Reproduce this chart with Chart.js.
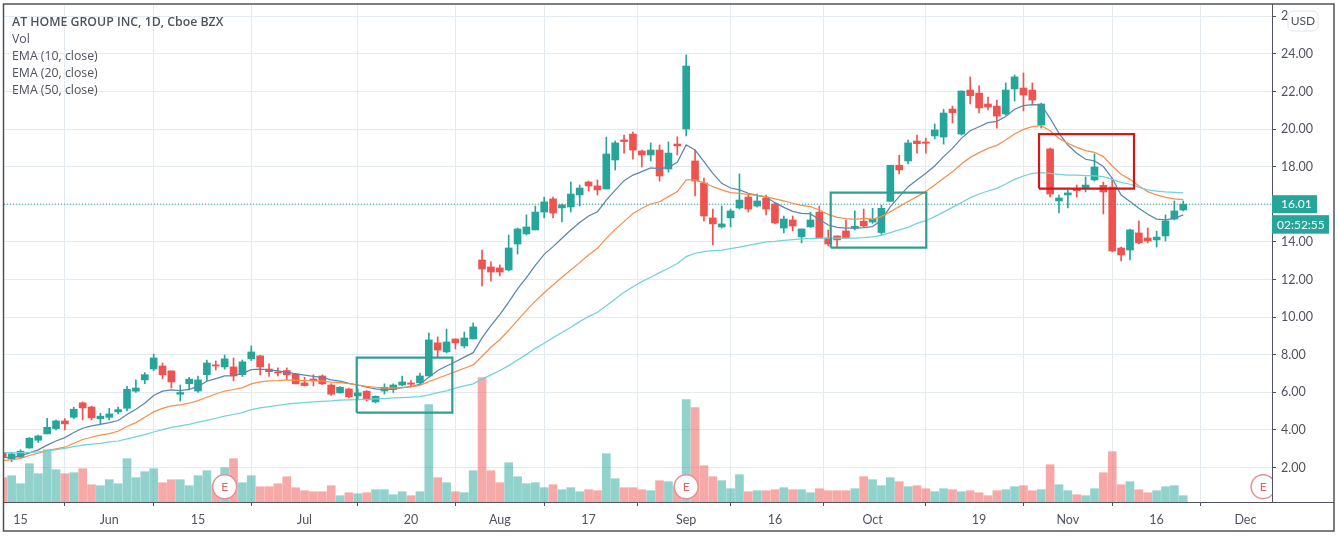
<!DOCTYPE html>
<html>
<head>
<meta charset="utf-8">
<title>AT HOME GROUP INC, 1D, Cboe BZX</title>
<script src="https://cdn.jsdelivr.net/npm/chart.js@4/dist/chart.umd.min.js"></script>
<style>
  html, body { margin: 0; padding: 0; background: #fff; }
  #wrap { position: relative; width: 1338px; height: 536px; overflow: hidden; }
  #legend {
    position: absolute; left: 12px; top: 13px;
    font: 12.3px/17px 'Open Sans', sans-serif; color: #50535e;
  }
  #legend .name { font-weight: 600; }
</style>
</head>
<body>
<div id="wrap">
  <canvas id="chart" width="1338" height="536"></canvas>
  <div id="legend">
    <div class="name">AT HOME GROUP INC, 1D, Cboe BZX</div>
    <div>Vol</div>
    <div>EMA (10, close)</div>
    <div>EMA (20, close)</div>
    <div>EMA (50, close)</div>
  </div>
</div>
<script>
const tickIndex = [2, 12, 22, 34, 46, 56, 66, 77, 87, 98, 110, 120, 130, 140];
const tickLabels = ['15', 'Jun', '15', 'Jul', '20', 'Aug', '17', 'Sep', '16', 'Oct', '19', 'Nov', '16', 'Dec'];
const priceTicks = [2, 4, 6, 8, 10, 12, 14, 16, 18, 20, 22, 24, 26];

const opens = [
  2.76,2.46,2.55,3.04,3.45,3.79,4.07,4.48,4.67,5.44,
  5.22,4.59,4.67,4.96,5.15,6.06,6.66,7.24,7.40,7.14,
  5.90,6.46,6.07,6.94,7.46,7.35,7.35,6.94,7.78,7.94,
  7.24,7.08,7.16,6.98,6.50,6.71,6.87,6.39,5.97,6.18,
  5.81,6.06,5.49,6.07,6.15,6.39,6.50,6.50,6.87,8.63,
  8.15,8.84,8.47,8.84,13.04,12.67,12.62,12.51,13.89,14.43,
  14.64,15.59,16.29,15.81,15.86,16.50,17.19,16.98,16.82,18.36,
  19.43,19.74,18.84,18.63,18.89,17.88,19.21,20.01,18.31,17.14,
  15.28,14.80,15.28,15.81,16.39,15.91,16.34,16.02,14.74,15.17,
  14.27,14.80,15.59,14.21,14.32,14.59,14.73,15.10,15.06,14.50,
  16.16,18.08,18.31,19.37,19.32,19.64,19.58,21.07,19.74,22.08,
  21.92,21.34,21.23,20.81,22.14,22.19,22.08,20.22,18.95,16.18,
  16.50,16.85,16.87,17.30,17.01,16.92,13.68,13.57,14.48,14.21,
  14.11,14.32,15.22,15.70
];
const highs = [
  2.80,2.79,2.94,3.59,3.73,4.62,4.53,4.60,5.21,5.49,
  5.26,4.89,5.15,5.22,6.32,6.66,7.05,8.04,7.56,7.14,
  6.39,6.80,6.87,7.72,7.67,7.99,7.83,7.72,8.47,7.97,
  7.51,7.30,7.30,7.01,6.80,6.93,6.93,6.45,6.30,6.23,
  6.18,6.09,5.81,6.45,6.45,6.87,6.62,7.03,9.16,8.95,
  9.37,8.84,9.21,9.69,13.57,12.94,12.78,14.37,14.74,15.44,
  15.91,16.39,16.39,16.02,17.19,17.03,17.24,17.30,19.58,19.37,
  19.69,19.85,18.89,19.27,19.16,19.32,19.59,23.95,18.89,17.40,
  15.75,15.91,15.75,17.62,16.55,16.55,16.50,16.06,15.38,15.38,
  14.69,15.59,15.91,14.64,14.32,15.17,15.65,15.75,15.79,15.95,
  18.08,18.61,19.42,19.69,19.53,20.28,21.06,21.23,22.03,22.78,
  22.30,21.71,21.55,22.46,22.88,22.99,22.46,21.39,19.00,16.50,
  16.77,17.03,17.46,18.68,17.19,17.40,13.73,14.69,15.12,14.74,
  14.58,15.44,16.18,16.18
];
const lows = [
  2.50,2.31,2.49,3.02,3.33,3.79,4.00,4.00,4.60,4.53,
  4.53,4.32,4.53,4.85,5.01,5.99,6.46,7.16,6.73,6.23,
  5.54,6.13,5.99,6.62,7.19,7.23,6.61,6.84,7.69,6.93,
  6.84,6.87,6.66,6.45,6.34,6.34,6.41,5.83,5.95,5.70,
  5.60,5.54,5.44,5.91,5.99,6.34,6.30,6.48,6.87,7.88,
  8.10,8.31,8.36,8.84,11.66,11.92,12.19,12.46,13.36,14.37,
  14.64,15.28,15.28,15.06,15.59,15.91,16.71,16.50,16.82,17.83,
  18.73,18.41,17.99,18.31,17.24,17.72,18.63,19.64,16.45,15.12,
  13.84,14.74,14.80,15.75,15.59,15.86,15.44,14.96,14.48,14.59,
  13.95,14.78,14.20,13.79,13.68,14.20,14.64,14.81,14.99,14.39,
  16.15,17.62,18.15,18.73,18.73,19.48,19.21,20.33,19.69,21.34,
  20.86,21.02,20.06,20.74,21.50,20.97,21.29,20.06,16.39,15.54,
  15.81,16.39,16.66,17.24,15.49,13.47,12.99,13.04,13.89,13.95,
  13.73,14.05,15.17,15.65
];
const closes = [
  2.53,2.72,2.87,3.56,3.68,4.14,4.48,4.32,5.10,5.17,
  4.64,4.73,4.85,5.08,6.16,6.23,6.94,7.83,6.93,6.55,
  5.99,6.70,6.66,7.56,7.40,7.78,6.87,7.62,8.15,7.35,
  7.10,7.03,6.93,6.45,6.36,6.62,6.45,5.90,6.27,5.76,
  5.97,5.60,5.79,6.27,6.39,6.55,6.43,6.87,8.79,8.25,
  8.68,8.63,8.89,9.48,12.56,12.40,12.40,13.68,14.69,14.80,
  15.59,16.13,15.54,15.97,16.55,16.87,16.98,16.77,18.68,19.27,
  19.34,18.89,18.63,18.89,17.51,18.73,19.11,23.36,17.24,15.38,
  14.96,14.96,15.65,16.23,15.75,16.18,15.75,15.01,15.22,14.85,
  14.69,15.17,14.21,13.89,14.11,14.21,14.83,14.85,15.21,15.79,
  18.08,17.83,19.27,19.23,19.25,19.96,20.86,20.88,22.03,21.78,
  21.13,21.18,20.70,22.08,22.78,21.82,21.55,21.34,16.55,16.34,
  16.61,16.73,17.03,17.99,16.66,13.52,13.31,14.64,13.95,14.05,
  14.26,15.12,15.65,16.01
];
const volumes = [
  2.43,2.63,1.83,3.83,2.83,5.23,3.23,2.83,2.93,3.33,
  1.73,1.63,2.23,1.83,4.33,2.43,3.03,3.33,1.93,2.23,
  2.23,1.63,2.63,3.13,1.73,3.43,4.33,1.93,2.63,1.53,
  1.53,1.83,2.53,1.43,1.13,1.03,1.03,1.63,0.63,0.93,
  0.83,0.93,1.23,1.23,0.73,1.03,0.63,1.03,9.73,2.43,
  1.93,1.03,0.93,3.13,12.43,3.13,1.93,3.93,2.53,1.83,
  1.93,1.43,1.73,1.23,1.43,1.03,1.23,1.13,4.83,2.33,
  1.43,1.43,1.23,1.13,2.13,2.03,1.50,10.23,9.43,3.63,
  2.53,2.13,1.33,2.73,1.03,1.13,1.13,1.23,1.43,1.23,
  1.23,0.93,1.33,1.13,1.13,1.13,1.33,2.53,2.23,1.63,
  2.43,2.03,1.53,1.63,1.33,1.03,1.33,1.23,1.03,1.13,
  0.93,0.63,1.13,1.23,1.53,1.63,1.13,1.23,3.73,1.73,
  1.13,0.73,0.63,1.33,2.93,5.03,1.73,2.03,1.23,0.93,
  1.13,1.53,1.63,0.63
];
const ema10 = [
  2.55,2.51,2.62,2.78,2.94,3.19,3.41,3.59,3.86,4.09,
  4.21,4.30,4.39,4.50,4.82,5.10,5.42,5.83,6.06,6.13,
  6.09,6.16,6.32,6.59,6.73,6.87,6.89,7.01,7.21,7.23,
  7.19,7.14,7.07,6.98,6.91,6.85,6.80,6.66,6.59,6.48,
  6.39,6.27,6.18,6.15,6.18,6.25,6.30,6.43,6.80,7.16,
  7.40,7.63,7.87,8.11,8.90,9.55,10.13,10.80,11.50,12.10,
  12.75,13.34,13.75,14.20,14.64,15.03,15.38,15.61,16.23,16.76,
  17.26,17.56,17.74,17.94,17.90,17.97,18.24,19.16,18.89,18.27,
  17.65,17.12,16.87,16.77,16.59,16.48,16.38,16.09,15.84,15.63,
  15.52,15.49,15.20,14.90,14.78,14.73,14.73,14.76,14.82,15.17,
  15.88,16.41,16.94,17.30,17.65,18.04,18.54,18.98,19.51,19.92,
  20.13,20.35,20.42,20.67,21.06,21.25,21.30,21.29,20.58,19.78,
  19.16,18.72,18.40,18.31,18.01,17.39,16.50,16.15,15.79,15.47,
  15.22,15.17,15.26,15.44
];
const ema20 = [
  2.37,2.40,2.49,2.64,2.76,2.90,2.99,3.08,3.29,3.49,
  3.61,3.72,3.80,3.93,4.18,4.39,4.67,4.96,5.15,5.28,
  5.33,5.42,5.56,5.74,5.91,6.07,6.15,6.25,6.45,6.55,
  6.61,6.62,6.66,6.64,6.62,6.61,6.59,6.54,6.52,6.46,
  6.39,6.32,6.27,6.23,6.23,6.25,6.29,6.37,6.57,6.75,
  6.92,7.10,7.28,7.46,7.92,8.40,8.80,9.30,9.83,10.36,
  10.85,11.30,11.71,12.12,12.51,12.90,13.31,13.66,14.19,14.67,
  15.08,15.52,15.79,16.02,16.14,16.41,16.68,17.30,17.30,17.16,
  16.94,16.77,16.62,16.59,16.53,16.48,16.41,16.29,16.18,16.06,
  15.95,15.88,15.70,15.47,15.31,15.24,15.20,15.26,15.21,15.35,
  15.61,15.88,16.15,16.41,16.68,17.03,17.39,17.74,18.15,18.50,
  18.75,18.98,19.14,19.42,19.74,19.99,20.13,20.19,19.92,19.51,
  19.25,19.03,18.86,18.77,18.54,18.04,17.60,17.33,16.98,16.68,
  16.50,16.37,16.29,16.25
];
const ema50 = [
  2.79,2.79,2.79,2.81,2.83,2.88,2.95,3.02,3.11,3.19,
  3.24,3.29,3.36,3.41,3.52,3.63,3.75,3.89,4.02,4.13,
  4.21,4.30,4.41,4.51,4.62,4.73,4.82,4.92,5.08,5.17,
  5.24,5.31,5.37,5.42,5.45,5.49,5.52,5.54,5.58,5.60,
  5.61,5.63,5.65,5.67,5.70,5.72,5.74,5.77,5.86,5.98,
  6.08,6.22,6.34,6.45,6.70,6.93,7.16,7.42,7.72,8.02,
  8.34,8.61,8.91,9.18,9.46,9.76,10.03,10.26,10.60,10.97,
  11.32,11.62,11.89,12.12,12.37,12.60,12.85,13.22,13.40,13.49,
  13.54,13.57,13.65,13.73,13.82,13.91,14.00,14.03,14.09,14.12,
  14.16,14.18,14.20,14.20,14.20,14.20,14.21,14.23,14.27,14.35,
  14.50,14.64,14.78,14.99,15.13,15.35,15.59,15.84,16.09,16.36,
  16.55,16.71,16.85,17.08,17.33,17.51,17.65,17.69,17.65,17.60,
  17.56,17.55,17.53,17.51,17.47,17.33,17.17,17.07,16.91,16.77,
  16.71,16.66,16.64,16.61
];
const earningsIndex = [25, 77, 142];
const earningsLevel = [1.53, 1.53, 1.53];
// boxes drawn on the chart: [first bar, last bar, low price, high price]
const tealBoxes = [[39.88, 50.65, 4.92, 7.85], [93.28, 104.05, 13.70, 16.62]];
const redBoxes = [[116.75, 127.45, 16.84, 19.74]];

const UP = '#26a69a';
const DOWN = '#ef5350';
const UP_VOL = 'rgba(38,166,154,0.5)';
const DOWN_VOL = 'rgba(239,83,80,0.5)';
const TEXT = '#50535e';
const GRID = '#e3ebf0';
const X_MIN = 0.14;
const X_MAX = 143;

const isUp = (i) => closes[i] >= opens[i];

function boxLine(b) {
  return [
    { x: b[0], y: b[2] }, { x: b[1], y: b[2] }, { x: b[1], y: b[3] },
    { x: b[0], y: b[3] }, { x: b[0], y: b[2] }
  ];
}

function emaDataset(values, color) {
  return {
    type: 'line',
    data: values.map((v, i) => ({ x: i, y: v })),
    borderColor: color,
    borderWidth: 1.25,
    pointRadius: 0,
    tension: 0,
    order: 2
  };
}

function boxDataset(box, color) {
  return {
    type: 'line',
    data: boxLine(box),
    borderColor: color,
    borderWidth: 2.2,
    pointRadius: 0,
    tension: 0,
    order: 1
  };
}

// the plot has a fixed size, end labels must not push it inward
function dropLabelOverhang(scale) {
  scale.paddingLeft = 0;
  scale.paddingRight = 0;
  scale.paddingTop = 0;
  scale.paddingBottom = 0;
}

const framePlugin = {
  id: 'frame',
  afterDatasetsDraw(chart) {
    const ctx = chart.ctx;
    const a = chart.chartArea;
    // E letter inside the earnings circles
    ctx.save();
    ctx.beginPath();
    ctx.rect(a.left, a.top, a.right - a.left, a.bottom - a.top);
    ctx.clip();
    ctx.fillStyle = '#e0606c';
    ctx.font = '12px Lato, sans-serif';
    ctx.textAlign = 'center';
    ctx.textBaseline = 'middle';
    earningsIndex.forEach((v, i) => {
      ctx.fillText('E', chart.scales.x.getPixelForValue(v), chart.scales.y2.getPixelForValue(earningsLevel[i]));
    });
    ctx.restore();
  },
  afterDraw(chart) {
    const ctx = chart.ctx;
    const a = chart.chartArea;
    const y = chart.scales.y.getPixelForValue(closes[closes.length - 1]);
    ctx.save();
    // outer frame and the stub of the time axis under the price axis
    ctx.strokeStyle = TEXT;
    ctx.lineWidth = 1.5;
    ctx.strokeRect(3.5, 4, 1330.5, 527);
    ctx.lineWidth = 1;
    ctx.beginPath();
    ctx.moveTo(a.right, Math.round(a.bottom) + 0.5);
    ctx.lineTo(1334, Math.round(a.bottom) + 0.5);
    ctx.stroke();
    // last price and countdown tags
    ctx.fillStyle = UP;
    ctx.fillRect(a.right, y - 9, 45, 18);
    ctx.fillRect(a.right, y + 11, 57, 18.5);
    ctx.fillStyle = '#fff';
    ctx.font = '12px Lato, sans-serif';
    ctx.textBaseline = 'middle';
    ctx.fillText(closes[closes.length - 1].toFixed(2), a.right + 9, y);
    ctx.fillText('02:52:55', a.right + 5, y + 20.5);
    // currency badge, it hides most of the top tick label; white strip keeps the label's top edge off the frame
    ctx.fillStyle = '#fff';
    ctx.fillRect(1288, 6, 30, 6);
    ctx.beginPath();
    ctx.roundRect(1288, 11, 30, 20, 5);
    ctx.fill();
    ctx.strokeStyle = '#dfe3ea';
    ctx.stroke();
    ctx.fillStyle = TEXT;
    ctx.textAlign = 'center';
    ctx.fillText('USD', 1303, 21);
    ctx.restore();
  }
};

const datasets = [
  {
    type: 'bar',
    yAxisID: 'y2',
    data: volumes.map((v, i) => ({ x: i, y: [0, v] })),
    backgroundColor: volumes.map((v, i) => (isUp(i) ? UP_VOL : DOWN_VOL)),
    barThickness: 8,
    grouped: false,
    order: 6
  },
  {
    type: 'line',
    data: [{ x: X_MIN, y: closes[closes.length - 1] }, { x: X_MAX, y: closes[closes.length - 1] }],
    borderColor: UP,
    borderWidth: 1,
    borderDash: [1, 2],
    pointRadius: 0,
    order: 5
  },
  {
    type: 'bar',
    data: highs.map((h, i) => ({ x: i, y: [lows[i], h] })),
    backgroundColor: highs.map((h, i) => (isUp(i) ? UP : DOWN)),
    barThickness: 1,
    grouped: false,
    order: 4
  },
  {
    type: 'bar',
    data: opens.map((o, i) => ({ x: i, y: [o, closes[i]] })),
    backgroundColor: opens.map((o, i) => (isUp(i) ? UP : DOWN)),
    barThickness: 7,
    grouped: false,
    order: 3
  },
  emaDataset(ema50, '#6fd3dc'),
  emaDataset(ema20, '#f4914b'),
  emaDataset(ema10, '#5c86ad'),
  ...tealBoxes.map((b) => boxDataset(b, '#2f9f93')),
  ...redBoxes.map((b) => boxDataset(b, '#d3181c')),
  {
    type: 'scatter',
    yAxisID: 'y2',
    data: earningsIndex.map((v, i) => ({ x: v, y: earningsLevel[i] })),
    pointStyle: 'circle',
    pointRadius: 12,
    pointBackgroundColor: '#fff',
    pointBorderColor: '#ec8d96',
    pointBorderWidth: 1.5,
    clip: 0,
    order: 0
  }
];

new Chart(document.getElementById('chart'), {
  type: 'bar',
  data: { datasets },
  options: {
    responsive: false,
    animation: false,
    layout: { autoPadding: false, padding: { left: 4, top: 4, right: 4, bottom: 5 } },
    plugins: { legend: { display: false }, tooltip: { enabled: false } },
    scales: {
      x: {
        type: 'linear',
        offset: false,
        min: X_MIN,
        max: X_MAX,
        afterBuildTicks(scale) {
          scale.ticks = tickIndex.map((v) => ({ value: v }));
        },
        afterFit(scale) {
          scale.height = 29;
          dropLabelOverhang(scale);
        },
        grid: { color: GRID, tickColor: TEXT, tickLength: 4 },
        border: { color: TEXT },
        ticks: {
          autoSkip: false,
          maxRotation: 0,
          padding: 6,
          color: TEXT,
          font: { family: 'Lato, sans-serif', size: 12.5 },
          callback: (value, index) => tickLabels[index]
        }
      },
      y: {
        position: 'right',
        min: 0.165,
        max: 26.66,
        afterBuildTicks(scale) {
          scale.ticks = priceTicks.map((v) => ({ value: v }));
        },
        afterFit(scale) {
          scale.width = 62;
          dropLabelOverhang(scale);
        },
        grid: { color: GRID, tickColor: TEXT, tickLength: 4 },
        border: { color: TEXT },
        ticks: {
          padding: 5,
          color: TEXT,
          font: { family: 'Lato, sans-serif', size: 12.5 },
          callback: (value) => value.toFixed(2)
        }
      },
      y2: {
        axis: 'y',
        display: false,
        min: 0,
        max: 49.8
      }
    }
  },
  plugins: [framePlugin]
});
</script>
</body>
</html>
